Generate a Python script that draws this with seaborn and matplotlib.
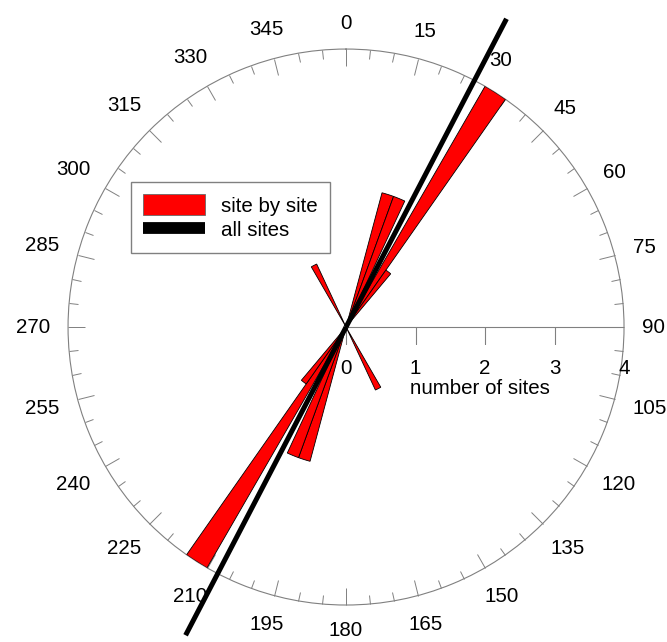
import matplotlib.pyplot as plt
import numpy as np
import seaborn as sns
from matplotlib.lines import Line2D
from matplotlib.patches import Patch

# rose diagram data (axial: each bin also drawn at +180)
bin_start = np.array([15, 20, 30, 35, 150])
counts = np.array([2, 2, 4, 1, 1])
bin_width = 5
mean_dir = 27.5
r_max = 4
radial_ticks = [0, 1, 2, 3, 4]
theta_labels = list(range(0, 360, 15))

FS = 14.8

sns.set_theme(style="white")
plt.rcParams["font.family"] = ["Liberation Sans", "DejaVu Sans"]
plt.rcParams["text.color"] = "black"

fig = plt.figure(figsize=(6.67, 6.42), dpi=100)
ax = fig.add_axes([0.102, 0.0576, 0.8336, 0.866], projection="polar")
ax.set_theta_zero_location("N")
ax.set_theta_direction(-1)
ax.set_ylim(0, r_max)
ax.grid(False)
ax.spines["polar"].set_color("gray")
ax.spines["polar"].set_linewidth(0.8)

# outer angle ticks
ax.set_xticks(np.deg2rad(theta_labels))
ax.set_xticklabels([])
ax.set_xticks(np.deg2rad(range(0, 360, 5)), minor=True)
ax.tick_params(axis="x", which="both", bottom=False, top=True)
ax.tick_params(axis="x", which="major", direction="in", length=12, width=0.7, color="gray")
ax.tick_params(axis="x", which="minor", direction="in", length=6.5, width=0.7, color="gray")
ax.set_yticks([])
for d in theta_labels:
    t = np.deg2rad(d)
    half_w = len(str(d)) * 5.7
    gap_px = 18 + abs(np.cos(t)) * 7.5 + abs(np.sin(t)) * half_w
    off = gap_px / 1.389
    ax.annotate(str(d), xy=(t, r_max), xytext=(off * np.sin(t), off * np.cos(t)),
                textcoords="offset points", ha="center", va="center", fontsize=FS,
                annotation_clip=False)

# radial scale along 90 deg
ax.plot([np.pi / 2, np.pi / 2], [0, r_max], color="gray", lw=0.8, zorder=1)
ax.plot([np.pi / 2] * 4, radial_ticks[:4], ls="none", marker=3, markersize=12,
        markeredgewidth=0.8, color="gray", zorder=1)
for v in radial_ticks:
    ax.annotate(str(v), xy=(np.pi / 2, v), xytext=(0, -29.5), textcoords="offset points",
                ha="center", va="center", fontsize=FS, annotation_clip=False)
ax.annotate("number of sites", xy=(np.pi / 2, 1.93), xytext=(0, -44), textcoords="offset points",
            ha="center", va="center", fontsize=FS, annotation_clip=False)

# wedges
theta = np.deg2rad(np.concatenate([bin_start, bin_start + 180]))
r = np.concatenate([counts, counts])
ax.bar(theta, r, width=np.deg2rad(bin_width), align="edge", bottom=0,
       color="red", edgecolor="black", linewidth=0.6, zorder=3)

# mean direction
for d in [mean_dir, mean_dir + 180]:
    ax.plot([np.deg2rad(d)] * 2, [0, 5], color="black", lw=3.6, clip_on=False,
            solid_capstyle="butt", zorder=4)

handles = [
    Patch(facecolor="red", edgecolor="dimgray", linewidth=0.6, label="site by site"),
    Line2D([], [], color="black", lw=8.5, solid_capstyle="butt", label="all sites"),
]
ax.legend(handles=handles, loc="upper left", bbox_to_anchor=(131 / 667, 1 - 182 / 642),
          bbox_transform=fig.transFigure, frameon=True, fancybox=False, edgecolor="gray",
          framealpha=1, fontsize=FS, handlelength=3.0, handleheight=1.2, handletextpad=0.8,
          labelspacing=0.15, borderpad=0.6, borderaxespad=0)

fig.savefig("out.png", dpi=100)
